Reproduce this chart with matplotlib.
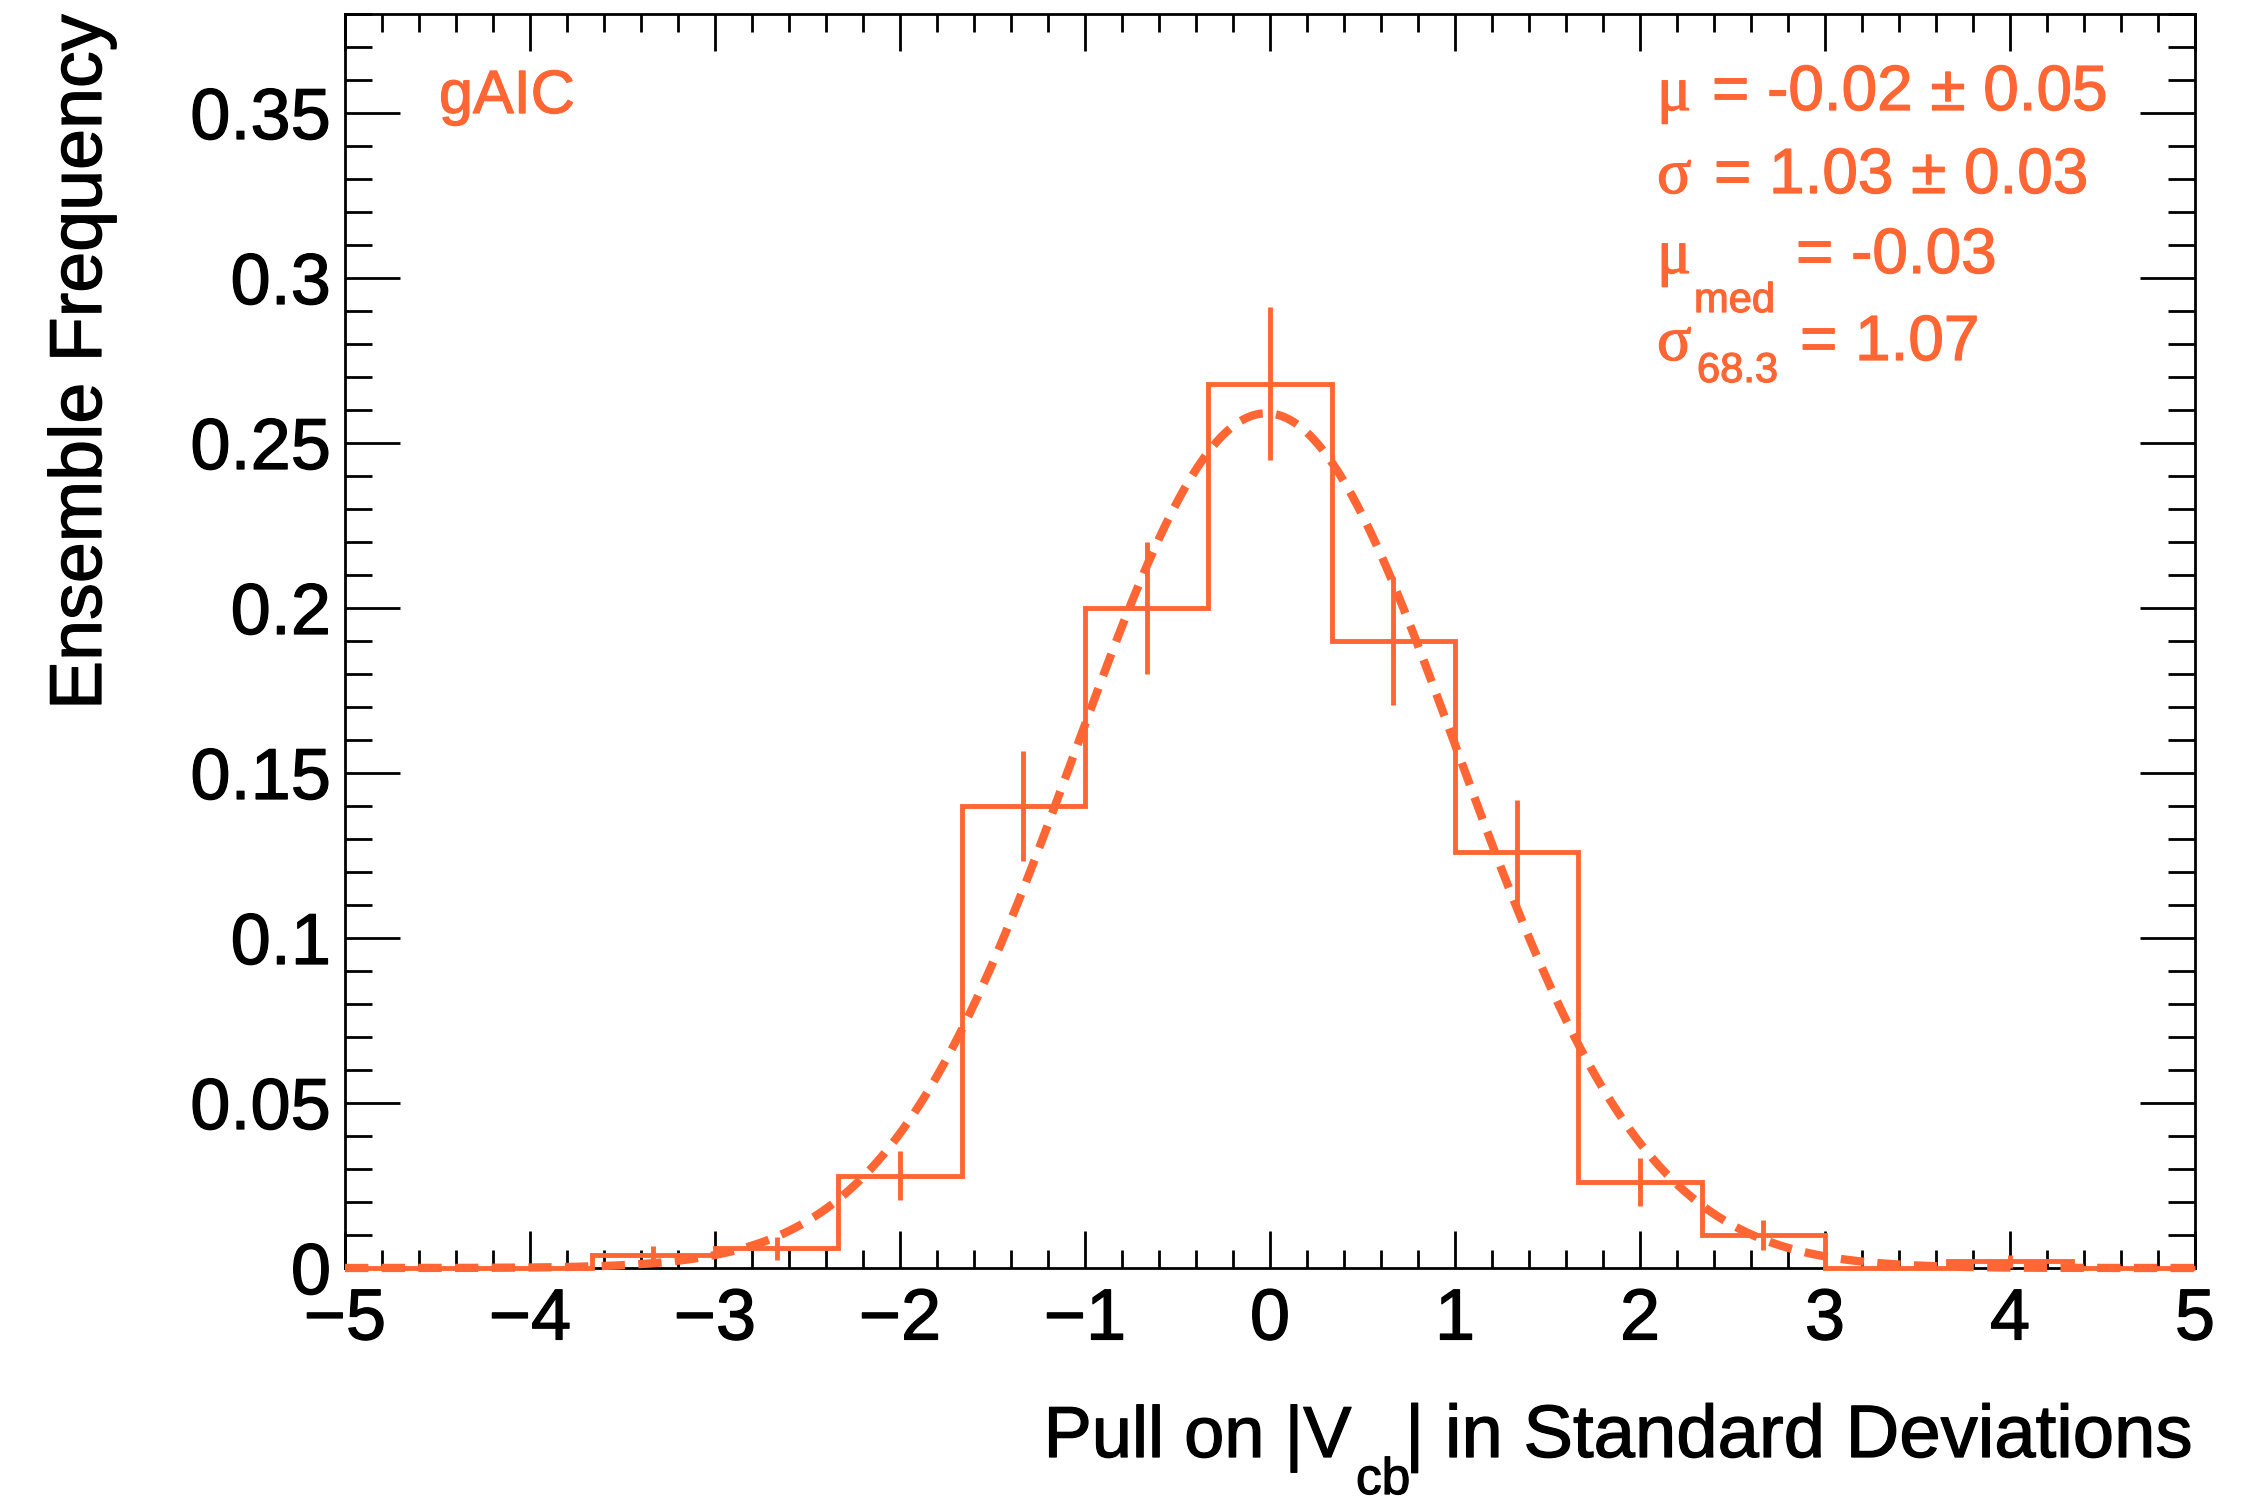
import numpy as np
import matplotlib
matplotlib.use("Agg")
import matplotlib.pyplot as plt
import matplotlib.patheffects as pe
from matplotlib.ticker import FixedLocator, MultipleLocator

# ---------------- data ----------------
bin_edges = np.linspace(-5, 5, 16)          # 15 bins of width 2/3
frequency = [0.0, 0.0, 0.004, 0.006, 0.028, 0.140, 0.200, 0.268,
             0.190, 0.126, 0.026, 0.010, 0.0, 0.002, 0.0]
freq_err = [0.0, 0.0, 0.0028, 0.0035, 0.0075, 0.0167, 0.0200, 0.0232,
            0.0195, 0.0159, 0.0072, 0.0045, 0.0, 0.0020, 0.0]

fit_mu = -0.02
fit_sigma = 1.03
fit_peak = 0.259

x_ticks = [-5, -4, -3, -2, -1, 0, 1, 2, 3, 4, 5]
x_tick_labels = ["\u22125", "\u22124", "\u22123", "\u22122", "\u22121",
                 "0", "1", "2", "3", "4", "5"]
y_ticks = [0, 0.05, 0.10, 0.15, 0.20, 0.25, 0.30, 0.35]
y_tick_labels = ["0", "0.05", "0.1", "0.15", "0.2", "0.25", "0.3", "0.35"]

method_label = "gAIC"
x_title = ["Pull on |V", "cb", "| in Standard Deviations"]
y_title = "Ensemble Frequency"

COLOR = "#ff6633"
SANS = "Liberation Sans"
SERIF = "Liberation Serif"

# ---------------- figure ----------------
W, H = 2254, 1504
fig = plt.figure(figsize=(W / 100, H / 100), dpi=100)
plt.rcParams["font.family"] = [SANS, "DejaVu Sans"]

L, R, T, B = 345, 2195, 14, 1268
ax = fig.add_axes([L / W, 1 - B / H, (R - L) / W, (B - T) / H])

centers = 0.5 * (bin_edges[:-1] + bin_edges[1:])
ax.stairs(frequency, bin_edges, color=COLOR, lw=3.5, baseline=0,
          clip_on=False, zorder=3)
vals = np.array(frequency)
errs = np.array(freq_err)
m = vals > 0
ax.errorbar(centers[m], vals[m], yerr=errs[m], fmt="none", ecolor=COLOR,
            elinewidth=3.5, capsize=0, zorder=3, clip_on=False)

xf = np.linspace(-5, 5, 600)
yf = fit_peak * np.exp(-0.5 * ((xf - fit_mu) / fit_sigma) ** 2)
ax.plot(xf, yf, color=COLOR, lw=6, dashes=(2.8, 1.6),
        dash_capstyle="butt", zorder=4, clip_on=False)

ax.set_xlim(-5, 5)
ax.set_ylim(0, 0.38)

ax.xaxis.set_major_locator(FixedLocator(x_ticks))
ax.set_xticklabels(x_tick_labels)
ax.xaxis.set_minor_locator(MultipleLocator(0.2))
ax.yaxis.set_major_locator(FixedLocator(y_ticks))
ax.set_yticklabels(y_tick_labels)
ax.yaxis.set_minor_locator(MultipleLocator(0.01))

ax.tick_params(which="both", direction="in", top=True, right=True,
               width=2, color="black")
ax.tick_params(axis="x", which="major", length=26.6, pad=14, labelsize=52)
ax.tick_params(axis="x", which="minor", length=13)
ax.tick_params(axis="y", which="major", length=39.6, pad=10, labelsize=52)
ax.tick_params(axis="y", which="minor", length=19.4)

stroke_k = [pe.withStroke(linewidth=0.9, foreground="black")]
for lab in ax.get_xticklabels() + ax.get_yticklabels():
    lab.set_family(SANS)
    lab.set_path_effects(stroke_k)
for s in ax.spines.values():
    s.set_linewidth(2)


def ftext(x, y, s, color="black", **kw):
    t = fig.text(x / W, 1 - y / H, s, color=color, **kw)
    t.set_path_effects([pe.withStroke(linewidth=0.9, foreground=color)])
    return t


# axis titles
ftext(1352, 1457, x_title[0], ha="right", va="baseline", fontsize=52, family=SANS)
ftext(1356, 1494, x_title[1], ha="left", va="baseline", fontsize=37, family=SANS)
ftext(1405, 1457, x_title[2], ha="left", va="baseline", fontsize=53.5, family=SANS)
ftext(101, 14, y_title, rotation=90, rotation_mode="anchor", ha="right",
      va="baseline", fontsize=53, family=SANS)

# method label
ftext(439, 113, method_label, ha="left", va="baseline", fontsize=44,
      family=SANS, color=COLOR)

# fit statistics
big, small = 46, 30
ftext(1657, 110, "\u03bc", ha="left", va="baseline", fontsize=big, family=SERIF, color=COLOR)
ftext(1712, 110, "= -0.02 \u00b1 0.05", ha="left", va="baseline", fontsize=big, family=SANS, color=COLOR)
ftext(1657, 193, "\u03c3", ha="left", va="baseline", fontsize=big, family=SERIF, color=COLOR)
ftext(1714, 193, "= 1.03 \u00b1 0.03", ha="left", va="baseline", fontsize=big, family=SANS, color=COLOR)
ftext(1657, 273, "\u03bc", ha="left", va="baseline", fontsize=big, family=SERIF, color=COLOR)
ftext(1694, 312, "med", ha="left", va="baseline", fontsize=small, family=SANS, color=COLOR)
ftext(1796, 273, "= -0.03", ha="left", va="baseline", fontsize=big, family=SANS, color=COLOR)
ftext(1657, 360, "\u03c3", ha="left", va="baseline", fontsize=big, family=SERIF, color=COLOR)
ftext(1697, 382, "68.3", ha="left", va="baseline", fontsize=small, family=SANS, color=COLOR)
ftext(1800, 360, "= 1.07", ha="left", va="baseline", fontsize=big, family=SANS, color=COLOR)

fig.savefig("out.png", dpi=100)
